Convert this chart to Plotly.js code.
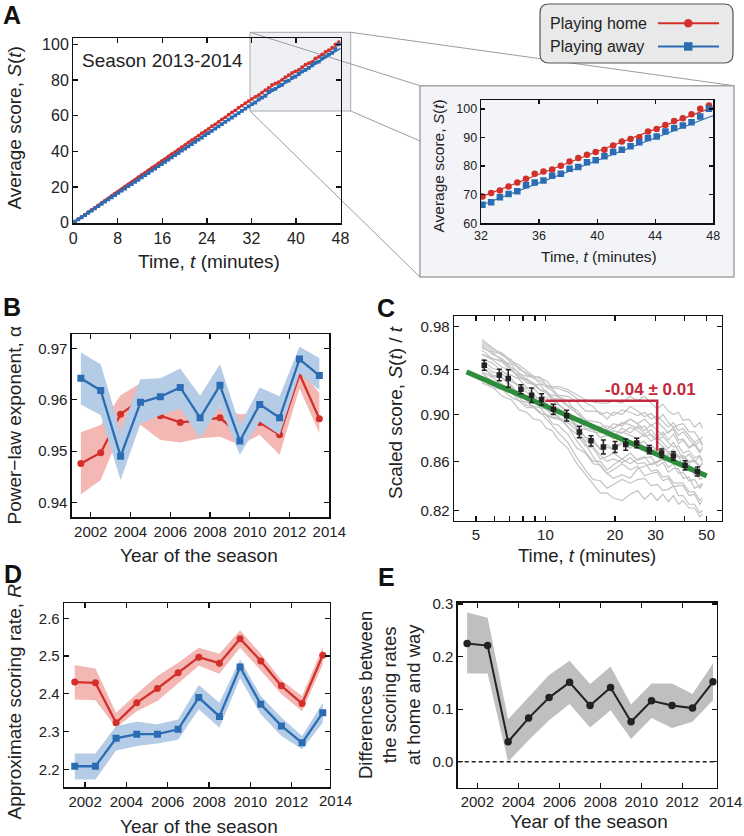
<!DOCTYPE html>
<html><head><meta charset="utf-8">
<script src="https://cdn.plot.ly/plotly-3.0.1.min.js"></script>
<style>html,body{margin:0;padding:0;background:#fff}#g{width:744px;height:836px}</style>
</head><body><div id="g"></div>
<script>
// ---------- DATA ----------
const tScore = [0.3,0.9,1.5,2.1,2.7,3.3,3.9,4.5,5.1,5.7,6.3,6.9,7.5,8.1,8.7,9.3,9.9,10.5,11.1,11.7,12.3,12.9,13.5,14.1,14.7,15.3,15.9,16.5,17.1,17.7,18.3,18.9,19.5,20.1,20.7,21.3,21.9,22.5,23.1,23.7,24.3,24.9,25.5,26.1,26.7,27.3,27.9,28.5,29.1,29.7,30.3,30.9,31.5,32.1,32.7,33.3,33.9,34.5,35.1,35.7,36.3,36.9,37.5,38.1,38.7,39.3,39.9,40.5,41.1,41.7,42.3,42.9,43.5,44.1,44.7,45.3,45.9,46.5,47.1,47.7];
const scoreHome = [0.7,2.0,3.3,4.5,5.9,7.2,8.4,9.8,11.1,12.4,13.6,15.0,16.3,17.5,18.9,20.2,21.5,22.8,24.0,25.5,26.8,27.9,29.3,30.6,31.8,33.3,34.5,35.7,37.2,38.4,39.6,41.1,42.4,43.7,45.1,46.3,47.4,48.9,50.2,51.3,52.6,54.1,55.2,56.6,58.0,59.1,60.6,61.9,63.0,64.5,65.7,67.0,68.2,
  69.4,70.6,71.5,72.9,74.3,75.6,77.3,78.1,78.8,80.1,81.6,82.8,84.0,84.9,85.7,87.2,88.6,89.5,90.1,92.1,93.0,94.4,95.8,96.7,98.1,100.0,101.2];
const scoreAway = [0.6,1.9,3.1,4.3,5.6,6.8,8.1,9.3,10.6,11.8,13.1,14.3,15.5,16.8,18.0,19.2,20.5,21.7,23.0,24.1,25.5,26.7,27.9,29.2,30.4,31.7,32.9,34.1,35.4,36.6,37.9,39.1,40.4,41.6,42.8,44.1,45.3,46.6,47.8,49.1,50.3,51.5,52.8,54.0,55.3,56.5,57.8,59.0,60.2,61.5,62.7,64.0,65.2,
  66.5,67.4,69.1,70.2,71.2,73.3,74.3,75.0,76.6,77.3,79.1,79.7,81.3,82.0,83.4,84.9,85.7,86.9,88.3,89.8,90.3,92.1,93.3,94.2,95.3,97.3,100.0];
const fitT = [0,8,16,24,32,36,40,44,48];
const fitHome = [0,18.0,35.3,52.3,69.2,77.2,85.1,92.9,100.6];
const fitAway = [0,17.2,33.8,50.1,66.3,74.2,82.0,89.9,97.7];

const years = [2001.5,2002.5,2003.5,2004.5,2005.5,2006.5,2007.5,2008.5,2009.5,2010.5,2011.5,2012.5,2013.5];
const alphaHome   = [0.9476,0.9497,0.9572,0.9600,0.9569,0.9556,0.9560,0.9565,0.9532,0.9556,0.9532,0.9650,0.9563];
const alphaHomeLo = [0.9416,0.9444,0.9538,0.9551,0.9522,0.9517,0.9525,0.9528,0.9512,0.9532,0.9493,0.9622,0.9535];
const alphaHomeHi = [0.9537,0.9551,0.9609,0.9632,0.9622,0.9600,0.9590,0.9585,0.9572,0.9575,0.9562,0.9662,0.9613];
const alphaAway   = [0.9642,0.9618,0.9490,0.9595,0.9606,0.9624,0.9565,0.9628,0.9520,0.9591,0.9565,0.9679,0.9647];
const alphaAwayLo = [0.9591,0.9570,0.9444,0.9554,0.9570,0.9583,0.9525,0.9587,0.9493,0.9558,0.9532,0.9651,0.9619];
const alphaAwayHi = [0.9692,0.9669,0.9538,0.9640,0.9642,0.9661,0.9608,0.9669,0.9551,0.9624,0.9607,0.9703,0.9681];

const rateHome   = [2.431,2.429,2.323,2.376,2.414,2.456,2.497,2.481,2.546,2.487,2.421,2.374,2.502];
const rateHomeLo = [2.385,2.383,2.310,2.354,2.381,2.427,2.474,2.453,2.522,2.462,2.399,2.354,2.478];
const rateHomeHi = [2.476,2.467,2.350,2.400,2.447,2.482,2.522,2.506,2.568,2.506,2.436,2.394,2.524];
const rateAway   = [2.208,2.208,2.282,2.293,2.293,2.306,2.390,2.340,2.471,2.372,2.315,2.270,2.350];
const rateAwayLo = [2.173,2.173,2.250,2.262,2.268,2.278,2.359,2.310,2.441,2.346,2.288,2.253,2.323];
const rateAwayHi = [2.242,2.242,2.315,2.326,2.319,2.332,2.423,2.376,2.491,2.394,2.337,2.288,2.376];

const rateDiff   = [0.225,0.221,0.038,0.083,0.122,0.151,0.107,0.141,0.076,0.116,0.107,0.102,0.152];
const rateDiffLo = [0.168,0.168,0.000,0.041,0.079,0.110,0.065,0.098,0.043,0.083,0.064,0.076,0.117];
const rateDiffHi = [0.284,0.274,0.081,0.124,0.165,0.192,0.148,0.181,0.109,0.149,0.149,0.129,0.187];

const tScaled = [5.43,6.31,6.90,7.83,8.71,9.63,10.82,12.36,14.03,15.76,17.83,20.03,22.28,24.86,28.2,31.9,35.85,40.3,45.6];
const scaled = [0.9441,0.9351,0.9320,0.9224,0.9170,0.9132,0.9047,0.8990,0.8849,0.8773,0.8721,0.8721,0.8741,0.8755,0.8698,0.8670,0.8645,0.8567,0.8517];
const scaledErr = [0.0046,0.0052,0.0079,0.0040,0.0065,0.0050,0.0044,0.0047,0.0049,0.0043,0.0059,0.0047,0.0047,0.0041,0.0035,0.0035,0.0035,0.0039,0.0037];
const tCurves = [5.3,5.9,6.5,7.1,7.7,8.3,8.9,9.5,10.1,10.7,11.3,12.5,13.7,14.9,16.1,17.3,18.5,19.7,21.5,23.3,25.1,26.9,28.7,30.5,32.3,34.1,35.9,37.7,39.5,41.9,44.3,46.7,47.9];
// season curves, in thousandths of S(t)/t
const seasonCurves = [
 [966,959,955,948,944,939,934,932,930,924,925,922,917,913,911,910,910,912,910,916,912,916,910,905,909,903,900,902,895,896,889,893,888],
 [960,956,948,945,936,934,933,927,925,923,917,916,911,903,903,902,896,902,900,907,903,898,901,895,900,893,889,891,892,885,885,878,881],
 [954,950,947,939,935,928,927,926,919,917,916,908,904,895,894,893,887,892,890,896,892,886,891,886,882,885,887,878,879,872,875,869,870],
 [950,946,938,935,931,924,923,917,915,908,909,902,897,888,887,880,882,879,885,882,879,883,877,881,876,871,876,869,862,866,860,864,859],
 [946,938,936,929,926,920,914,915,908,906,906,897,891,880,879,870,874,870,877,871,875,877,868,871,863,867,863,865,855,858,848,852,848],
 [942,934,932,925,917,916,911,906,905,899,899,889,883,873,871,862,864,867,862,867,861,863,864,856,859,851,854,854,846,847,838,840,842],
 [937,929,927,920,912,911,906,901,900,892,891,883,871,867,858,857,850,853,858,853,856,848,850,851,844,846,839,840,840,832,833,825,828],
 [928,924,916,913,904,902,896,895,888,886,879,871,858,849,841,834,834,830,828,833,836,829,834,828,833,827,832,825,828,822,822,815,817],
 [962,954,950,942,937,930,928,922,919,912,910,901,889,880,872,865,860,862,859,863,858,859,852,853,847,848,842,842,842,835,835,828,830],
 [932,924,922,915,912,906,906,901,900,898,897,895,889,887,885,884,885,888,892,896,892,896,890,894,889,884,889,882,885,879,873,877,873],
 [958,950,948,941,933,932,927,922,921,915,910,902,887,875,864,856,850,846,849,846,854,856,858,860,863,865,868,863,864,859,860,855,858],
 [968,960,953,949,940,937,932,930,924,921,916,912,901,896,889,886,882,886,884,889,886,881,883,878,881,876,872,873,867,869,863,865,861],
 [938,933,926,924,916,915,910,910,904,903,903,901,895,892,890,889,890,888,893,891,888,890,882,877,873,868,864,858,857,852,851,845,846],
 [943,935,933,926,918,912,907,902,896,890,885,876,863,853,845,844,838,841,845,842,845,846,840,841,836,837,840,832,832,825,825,818,820],
 [954,949,942,940,932,931,926,921,920,914,914,907,901,893,891,885,886,881,888,884,890,883,887,880,885,878,883,875,878,871,874,867,872],
 [934,930,922,919,915,908,907,906,899,897,896,893,886,877,876,870,872,870,875,873,877,872,874,869,872,867,870,864,865,860,861,856,859],
 [949,941,939,932,924,923,918,912,910,903,898,890,877,868,860,860,853,857,862,858,862,864,857,859,862,855,858,850,851,844,845,838,841],
 [964,957,954,946,942,935,934,933,926,924,923,920,914,910,907,900,902,899,904,902,899,902,896,899,894,889,893,886,888,882,876,879,874]
];
const trendT = [4.55,50];
const trendS = [0.938,0.848];
const slopeT = [10,30.5,30.5];
const slopeS = [0.912,0.912,0.869];

const ticksA_x = [0,8,16,24,32,40,48];
const ticksA_y = [0,20,40,60,80,100];
const ticksIn_x = [32,36,40,44,48];
const ticksIn_y = [60,70,80,90,100];
const yearTicks = [2002,2004,2006,2008,2010,2012,2014];
const ticksB_y = [0.94,0.95,0.96,0.97];
const ticksC_x = [5,6,7,8,9,10,20,30,40,50];
const ticksC_xText = ['5','','','','','10','20','30','','50'];
const ticksC_y = [0.82,0.86,0.90,0.94,0.98];
const ticksD_y = [2.2,2.3,2.4,2.5,2.6];
const ticksE_y = [0.0,0.1,0.2,0.3];

// ---------- STYLE ----------
const F = 'Liberation Sans, Arial, Helvetica, sans-serif';
const RED = '#d3302b', BLUE = '#2b6cb3';
const RED_BAND = '#f3b8b4', BLUE_BAND = '#b4cce6';
const W = 744, H = 836;
const px = x => x / W, py = y => 1 - y / H;

function ax(extra) {
  return Object.assign({showline:true, linecolor:'#111', linewidth:1.3, mirror:'ticks', ticks:'inside',
    ticklen:5, tickwidth:1.3, tickcolor:'#111', showgrid:false, zeroline:false,
    tickfont:{family:F, size:15, color:'#222'}, fixedrange:true, tickmode:'array'}, extra);
}

const traces = [];
// Panel A main
traces.push({x:fitT, y:fitHome, mode:'lines', line:{color:RED, width:1.5}, xaxis:'x', yaxis:'y'});
traces.push({x:fitT, y:fitAway, mode:'lines', line:{color:BLUE, width:1.5}, xaxis:'x', yaxis:'y'});
traces.push({x:tScore, y:scoreHome, mode:'markers', marker:{color:RED, size:3.8, symbol:'circle'}, xaxis:'x', yaxis:'y'});
traces.push({x:tScore, y:scoreAway, mode:'markers', marker:{color:BLUE, size:3.8, symbol:'square'}, xaxis:'x', yaxis:'y'});
// Inset
traces.push({x:fitT, y:fitHome, mode:'lines', line:{color:RED, width:1.2}, xaxis:'x2', yaxis:'y2'});
traces.push({x:fitT, y:fitAway, mode:'lines', line:{color:BLUE, width:1.2}, xaxis:'x2', yaxis:'y2'});
traces.push({x:tScore, y:scoreHome, mode:'markers', marker:{color:RED, size:6.5, symbol:'circle'}, xaxis:'x2', yaxis:'y2'});
traces.push({x:tScore, y:scoreAway, mode:'markers', marker:{color:BLUE, size:6.5, symbol:'square'}, xaxis:'x2', yaxis:'y2'});

function band(x, lo, hi, color, xa, ya) {
  traces.push({x:x, y:lo, mode:'lines', line:{width:0, color:color}, xaxis:xa, yaxis:ya, hoverinfo:'skip'});
  traces.push({x:x, y:hi, mode:'lines', line:{width:0, color:color}, fill:'tonexty', fillcolor:color, xaxis:xa, yaxis:ya, hoverinfo:'skip'});
}
// Panel B
band(years, alphaHomeLo, alphaHomeHi, RED_BAND, 'x3', 'y3');
traces.push({x:years, y:alphaHome, mode:'lines+markers', line:{color:RED, width:2.3}, marker:{color:RED, size:7, symbol:'circle'}, xaxis:'x3', yaxis:'y3'});
band(years, alphaAwayLo, alphaAwayHi, BLUE_BAND, 'x3', 'y3');
traces.push({x:years, y:alphaAway, mode:'lines+markers', line:{color:BLUE, width:2.3}, marker:{color:BLUE, size:7, symbol:'square'}, xaxis:'x3', yaxis:'y3'});
// Panel C
seasonCurves.forEach(c => traces.push({x:tCurves, y:c.map(v => v / 1000), mode:'lines', line:{color:'#c3c3c3', width:1.2}, xaxis:'x4', yaxis:'y4'}));
traces.push({x:trendT, y:trendS, mode:'lines', line:{color:'#2f8c3c', width:5}, xaxis:'x4', yaxis:'y4'});
traces.push({x:slopeT, y:slopeS, mode:'lines', line:{color:'#c4283d', width:2.5}, xaxis:'x4', yaxis:'y4'});
traces.push({x:tScaled, y:scaled, mode:'markers', marker:{color:'#222', size:5.5, symbol:'square'},
  error_y:{type:'data', array:scaledErr, color:'#222', thickness:1.5, width:2.5}, xaxis:'x4', yaxis:'y4'});
// Panel D
band(years, rateHomeLo, rateHomeHi, RED_BAND, 'x5', 'y5');
traces.push({x:years, y:rateHome, mode:'lines+markers', line:{color:RED, width:2.3}, marker:{color:RED, size:7, symbol:'circle'}, xaxis:'x5', yaxis:'y5'});
band(years, rateAwayLo, rateAwayHi, BLUE_BAND, 'x5', 'y5');
traces.push({x:years, y:rateAway, mode:'lines+markers', line:{color:BLUE, width:2.3}, marker:{color:BLUE, size:7, symbol:'square'}, xaxis:'x5', yaxis:'y5'});
// Panel E
band(years, rateDiffLo, rateDiffHi, '#bfbfbf', 'x6', 'y6');
traces.push({x:years, y:rateDiff, mode:'lines+markers', line:{color:'#222', width:2}, marker:{color:'#222', size:7.5, symbol:'circle'}, xaxis:'x6', yaxis:'y6'});

traces.forEach(t => { t.showlegend = false; });

const layout = {
  width:W, height:H, margin:{l:0,r:0,t:0,b:0}, paper_bgcolor:'#fff', plot_bgcolor:'#fff',
  font:{family:F, color:'#222'}, showlegend:false, hovermode:false,
  xaxis: ax({domain:[px(73.3),px(340.7)], range:[0,48.05], anchor:'y', tickvals:ticksA_x, tickfont:{family:F,size:16,color:'#222'}}),
  yaxis: ax({domain:[py(223.3),py(38.3)], range:[-0.3,103.4], anchor:'x', tickvals:ticksA_y, tickfont:{family:F,size:16,color:'#222'}}),
  xaxis2: ax({domain:[px(481),px(713.3)], range:[32,48], anchor:'y2', tickvals:ticksIn_x, tickfont:{family:F,size:12.5,color:'#222'}, ticklen:4}),
  yaxis2: ax({domain:[py(223.3),py(100)], range:[60,103.1], anchor:'x2', tickvals:ticksIn_y, tickfont:{family:F,size:12.5,color:'#222'}, ticklen:4}),
  xaxis3: ax({domain:[px(71.7),px(329.3)], range:[2001.04,2014.0], anchor:'y3', tickvals:yearTicks}),
  yaxis3: ax({domain:[py(517.3),py(334)], range:[0.93716,0.97278], anchor:'x3', tickvals:ticksB_y, ticktext:ticksB_y.map(v=>v.toFixed(2))}),
  xaxis4: ax({type:'log', domain:[px(454),px(722)], range:[0.6036,1.7653], anchor:'y4', tickvals:ticksC_x, ticktext:ticksC_xText}),
  yaxis4: ax({type:'log', domain:[py(520.5),py(316)], range:[Math.log10(0.8121),Math.log10(0.9902)], anchor:'x4', tickvals:ticksC_y, ticktext:ticksC_y.map(v=>v.toFixed(2))}),
  xaxis5: ax({domain:[px(64),px(330)], range:[2000.98,2013.85], anchor:'y5', tickvals:yearTicks}),
  yaxis5: ax({domain:[py(787.3),py(603.3)], range:[2.1523,2.6397], anchor:'x5', tickvals:ticksD_y, ticktext:ticksD_y.map(v=>v.toFixed(1))}),
  xaxis6: ax({domain:[px(457.7),px(716.7)], range:[2001.04,2013.68], anchor:'y6', tickvals:yearTicks}),
  yaxis6: ax({domain:[py(787.7),py(602.7)], range:[-0.0494,0.3025], anchor:'x6', tickvals:ticksE_y, ticktext:ticksE_y.map(v=>v.toFixed(1))}),
  shapes: [],
  annotations: []
};

const S = layout.shapes, A = layout.annotations;
// zoom highlight, connectors, inset box
S.push({type:'rect', xref:'paper', yref:'paper', x0:px(250), x1:px(350.7), y0:py(111), y1:py(32.3), fillcolor:'#eef0f3', line:{color:'#ababab', width:1}, layer:'below'});
const conn = [[250,32.3,420,85.7],[350.7,32.3,734,85.7],[350.7,111,734,277],[250,111,420,277]];
conn.forEach(c => S.push({type:'line', xref:'paper', yref:'paper', x0:px(c[0]), y0:py(c[1]), x1:px(c[2]), y1:py(c[3]), line:{color:'#9c9c9c', width:1}, layer:'below'}));
S.push({type:'rect', xref:'paper', yref:'paper', x0:px(420), x1:px(734), y0:py(277), y1:py(85.7), fillcolor:'#f3f4f7', line:{color:'#a3a3a3', width:1.5}, layer:'below'});
// legend box (rounded)
(function(){
  const x0=540,x1=733,y0=4,y1=63,r=9;
  const p = (x,y)=>px(x).toFixed(5)+','+py(y).toFixed(5);
  const path = 'M'+p(x0+r,y0)+' L'+p(x1-r,y0)+' Q'+p(x1,y0)+' '+p(x1,y0+r)+' L'+p(x1,y1-r)+' Q'+p(x1,y1)+' '+p(x1-r,y1)+
    ' L'+p(x0+r,y1)+' Q'+p(x0,y1)+' '+p(x0,y1-r)+' L'+p(x0,y0+r)+' Q'+p(x0,y0)+' '+p(x0+r,y0)+' Z';
  S.push({type:'path', xref:'paper', yref:'paper', path:path, fillcolor:'#e9e9e9', line:{color:'#555', width:1.2}, layer:'above'});
})();
S.push({type:'line', xref:'paper', yref:'paper', x0:px(658), x1:px(719), y0:py(23.3), y1:py(23.3), line:{color:RED, width:2}, layer:'above'});
S.push({type:'circle', xref:'paper', yref:'paper', x0:px(684), x1:px(692.5), y0:py(27.5), y1:py(19), fillcolor:RED, line:{color:RED, width:0}, layer:'above'});
S.push({type:'line', xref:'paper', yref:'paper', x0:px(658), x1:px(719), y0:py(46.5), y1:py(46.5), line:{color:BLUE, width:2}, layer:'above'});
S.push({type:'rect', xref:'paper', yref:'paper', x0:px(684), x1:px(692.5), y0:py(50.7), y1:py(42.2), fillcolor:BLUE, line:{color:BLUE, width:0}, layer:'above'});
// E zero line
S.push({type:'line', xref:'x6 domain', yref:'y6', x0:0, x1:1, y0:0, y1:0, line:{color:'#222', width:1.4, dash:'4px,3px'}, layer:'above'});

function txt(text, x, y, size, opts) {
  A.push(Object.assign({text:text, xref:'paper', yref:'paper', x:px(x), y:py(y), showarrow:false,
    xanchor:'center', yanchor:'middle', font:{family:F, size:size, color:'#222'}}, opts||{}));
}
// panel letters
const LET = {family:F, size:25, color:'#111'};
txt('<b>A</b>', 12, 14.5, 25, {font:LET});
txt('<b>B</b>', 12, 307, 25, {font:LET});
txt('<b>C</b>', 386, 308, 25, {font:LET});
txt('<b>D</b>', 12.5, 574, 25, {font:LET});
txt('<b>E</b>', 386.5, 576.5, 25, {font:LET});
// A
txt('Average score, <i>S</i>(<i>t</i>)', 13.5, 128, 19, {textangle:-90});
txt('Time, <i>t</i> (minutes)', 209, 261, 19);
txt('Season 2013-2014', 80, 60, 19, {xanchor:'left'});
txt('Average score, <i>S</i>(<i>t</i>)', 438.5, 166, 15.5, {textangle:-90});
txt('Time, <i>t</i> (minutes)', 599, 256, 15.5);
txt('Playing home', 547.5, 23.3, 16, {xanchor:'left'});
txt('Playing away', 547.5, 46, 16, {xanchor:'left'});
// B
txt('Power\u2212law exponent, \u03b1', 13.5, 426, 19, {textangle:-90});
txt('Year of the season', 199, 555, 19);
// C
txt('Scaled score, <i>S</i>(<i>t</i>) / <i>t</i>', 395, 413, 19, {textangle:-90});
txt('Time, <i>t</i> (minutes)', 587, 555, 18.5);
txt('<b>-0.04 \u00b1 0.01</b>', 650, 389, 17, {font:{family:F,size:17,color:'#c4283d'}});
// D
txt('Approximate scoring rate, <i>R</i>', 13.5, 702, 19, {textangle:-90});
txt('2014', 335.5, 800.5, 15);
txt('Year of the season', 198.5, 826, 19);
// E
txt('Differences between<br>the scoring rates<br>at home and way', 389, 695, 18.5, {textangle:-90});
txt('2014', 725, 801, 15);
txt('Year of the season', 589, 821, 19);

Plotly.newPlot('g', traces, layout, {staticPlot:true, displayModeBar:false});
</script></body></html>
